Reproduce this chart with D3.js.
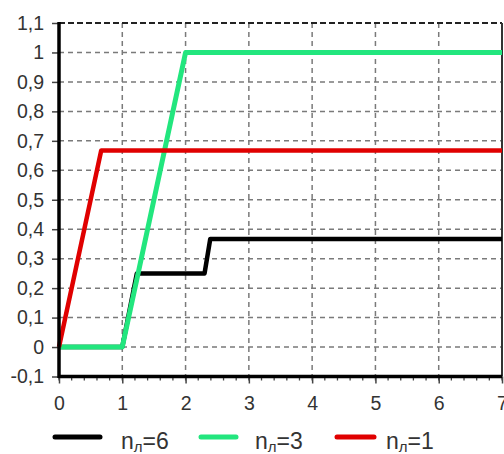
<!DOCTYPE html>
<html><head><meta charset="utf-8">
<script src="https://cdn.jsdelivr.net/npm/d3@7"></script>
<style>body{margin:0;background:#fff}svg{display:block}</style>
</head><body>
<svg id="c" width="504" height="454"></svg>
<script>
const xTicks = [0,1,2,3,4,5,6,7];
const yTicks = [-0.1,0,0.1,0.2,0.3,0.4,0.5,0.6,0.7,0.8,0.9,1,1.1];
const yTickLabels = ["-0,1","0","0,1","0,2","0,3","0,4","0,5","0,6","0,7","0,8","0,9","1","1,1"];
const seriesNames = ["6","3","1"];
const seriesColors = ["#000000","#22e67e","#e00000"];
const s6 = [[0,0],[1,0],[1.23,0.25],[2.3,0.25],[2.39,0.367],[7,0.367]];
const s3 = [[0,0],[1,0],[2,1],[7,1]];
const s1 = [[0,0],[0.667,0.667],[7,0.667]];

const svg = d3.select("#c");
const L=59,R=502,T=23,B=376.5;
const x = d3.scaleLinear().domain([0,7]).range([L,R]);
const y = d3.scaleLinear().domain([-0.1,1.1]).range([B,T]);
const font = "'Liberation Sans', Arial, sans-serif";

// grid
svg.append("g").selectAll("line").data(xTicks.slice(1,-1)).join("line")
  .attr("x1",d=>x(d)).attr("x2",d=>x(d)).attr("y1",T).attr("y2",B)
  .attr("stroke","#7a7a7a").attr("stroke-width",1.5).attr("stroke-dasharray","5,4");
svg.append("g").selectAll("line").data(yTicks.slice(1,-1)).join("line")
  .attr("x1",L).attr("x2",R).attr("y1",d=>y(d)).attr("y2",d=>y(d))
  .attr("stroke","#7a7a7a").attr("stroke-width",1.5).attr("stroke-dasharray","5,4");
// top and right borders
svg.append("line").attr("x1",L).attr("x2",R).attr("y1",T).attr("y2",T)
  .attr("stroke","#222").attr("stroke-width",2).attr("stroke-dasharray","6,3");
svg.append("line").attr("x1",R).attr("x2",R).attr("y1",T).attr("y2",B)
  .attr("stroke","#333").attr("stroke-width",2);

// lines
const line = d3.line().x(d=>x(d[0])).y(d=>y(d[1]));
const data = [s6,s3,s1];
const widths = [4.5,5,4.5];
data.forEach((s,i)=>{
  svg.append("path").attr("d",line(s)).attr("fill","none")
    .attr("stroke",seriesColors[i]).attr("stroke-width",widths[i])
    .attr("stroke-linejoin","round");
});

// axes
const yAxis = d3.axisLeft(y).tickValues(yTicks).tickFormat((d,i)=>yTickLabels[i]).tickSize(7).tickPadding(8);
const gy = svg.append("g").attr("transform",`translate(${L},0)`).call(yAxis);
gy.select(".domain").remove();
gy.selectAll(".tick line").attr("stroke","#444").attr("stroke-width",1.5);
gy.selectAll("text").attr("font-family",font).attr("font-size",19.5).attr("fill","#333");

const minor = d3.range(0,7.001,0.2);
svg.append("g").selectAll("line").data(minor).join("line")
  .attr("x1",d=>x(d)).attr("x2",d=>x(d)).attr("y1",B).attr("y2",B+4)
  .attr("stroke","#444").attr("stroke-width",1.3);
const xAxis = d3.axisBottom(x).tickValues(xTicks).tickFormat(d3.format("d")).tickSize(7).tickPadding(13);
const gx = svg.append("g").attr("transform",`translate(0,${B})`).call(xAxis);
gx.select(".domain").remove();
gx.selectAll(".tick line").attr("stroke","#444").attr("stroke-width",1.5);
gx.selectAll("text").attr("font-family",font).attr("font-size",19.5).attr("fill","#333");

svg.append("line").attr("x1",L).attr("x2",L).attr("y1",T-1).attr("y2",B+1.5)
  .attr("stroke","#000").attr("stroke-width",3.5);
svg.append("line").attr("x1",L-1).attr("x2",R).attr("y1",B).attr("y2",B)
  .attr("stroke","#000").attr("stroke-width",3.5);

// legend
const legX1 = [55,201,337];
const legX2 = [100,236,374];
const legTx = [121,255,386];
const lg = svg.append("g");
seriesNames.forEach((n,i)=>{
  const ly = 437;
  lg.append("line").attr("x1",legX1[i]).attr("x2",legX2[i]).attr("y1",ly).attr("y2",ly)
    .attr("stroke",seriesColors[i]).attr("stroke-width",5).attr("stroke-linecap","round");
  const t = lg.append("text").attr("x",legTx[i]).attr("y",449)
    .attr("font-family",font).attr("font-size",23).attr("fill","#333");
  t.append("tspan").text("n");
  t.append("tspan").attr("font-size",15).attr("dy",3).text("л");
  t.append("tspan").attr("dy",-3).text("="+n);
});
</script>
</body></html>
